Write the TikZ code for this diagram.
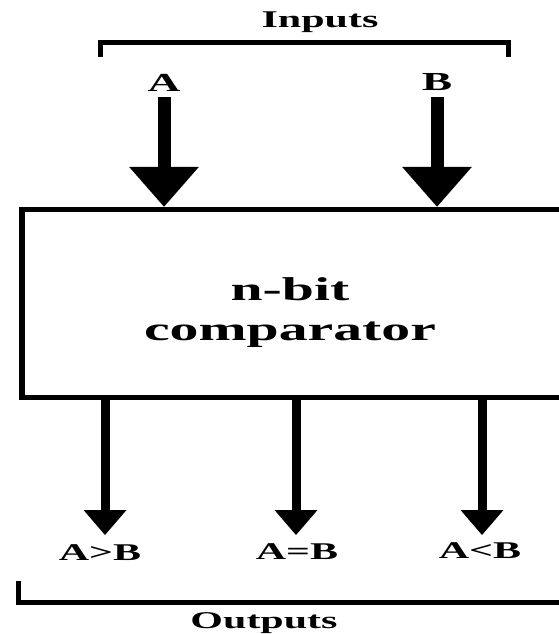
\documentclass[tikz,border=0pt]{standalone}
\usepackage{fontspec}
\setmainfont{Liberation Serif}
\newfontfamily\widefont{Liberation Serif}[FakeStretch=1.75]
\usetikzlibrary{arrows.meta}
\begin{document}
\begin{tikzpicture}[x=1pt,y=-1pt,
  lbl/.style={inner sep=0pt, anchor=base},
  fbig/.style={font=\widefont\bfseries\fontsize{33}{40}\selectfont},
  fmid/.style={font=\widefont\bfseries\fontsize{24}{28}\selectfont},
  fab/.style={font=\widefont\bfseries\fontsize{26}{30}\selectfont},
  fout/.style={font=\widefont\bfseries\fontsize{24}{28}\selectfont},
  bigarrow/.style={line width=13pt, -{Triangle[width=70pt,length=40pt,line width=0pt]}},
  smallarrow/.style={line width=9pt, -{Triangle[width=43pt,length=25pt,line width=0pt]}},
  bracket/.style={line width=5pt}]
\useasboundingbox (0,0) rectangle (559,634);
\fill[white] (0,0) rectangle (559,634);
% comparator box (right side runs off the picture)
\node[draw, line width=5.5pt, minimum width=580pt, minimum height=188pt, inner sep=0pt] (cmp) at (312,303.5) {};
\node[fbig, align=center, inner sep=0pt, anchor=north] (title) at (290,277.7) {n-bit\\comparator};
% inputs
\node[lbl,fmid] (inputs) at (320,28) {Inputs};
\draw[bracket] (100,57) -- (100,43) -- (508,43) -- (508,57);
\node[lbl,fab] (A) at (164,91) {A};
\node[lbl,fab] (B) at (437,90) {B};
\coordinate (aS) at (164,97);
\coordinate (bS) at (437,97);
\draw[bigarrow] (aS) -- (aS |- cmp.north);
\draw[bigarrow] (bS) -- (bS |- cmp.north);
% outputs
\coordinate (gt) at (105,535);
\coordinate (eq) at (296,535);
\coordinate (lt) at (482,535);
\draw[smallarrow] (cmp.south -| gt) -- (gt);
\draw[smallarrow] (cmp.south -| eq) -- (eq);
\draw[smallarrow] (cmp.south -| lt) -- (lt);
\node[lbl,fout] (gtl) at (100,560) {A>B};
\node[lbl,fout] (eql) at (297,559) {A=B};
\node[lbl,fout] (ltl) at (480,558) {A<B};
\draw[bracket] (18,581) -- (18,602) -- (600,602);
\node[lbl,fmid] (outputs) at (264,628) {Outputs};
\end{tikzpicture}
\end{document}
